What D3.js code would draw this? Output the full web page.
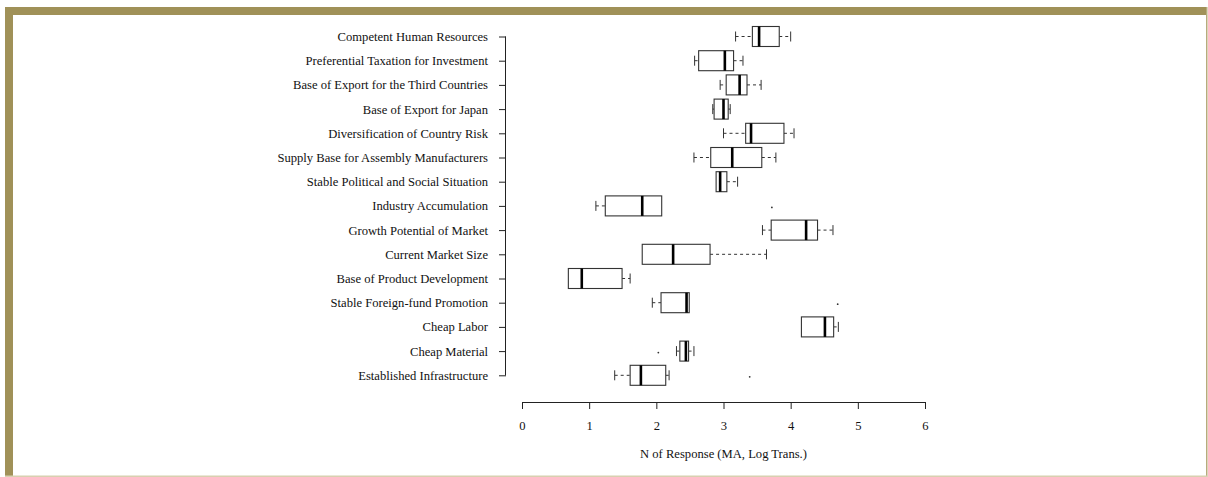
<!DOCTYPE html>
<html>
<head>
<meta charset="utf-8">
<script src="https://cdn.jsdelivr.net/npm/d3@7"></script>
<style>
  html, body { margin: 0; padding: 0; background: #fff; }
  svg { display: block; }
  text { font-family: "Liberation Serif", "Times New Roman", serif; fill: #111; }
</style>
</head>
<body>
<svg id="chart" width="1208" height="477"></svg>
<script>
// Motives for investment, five-number summaries (log-transformed counts)
const categories = [
  "Competent Human Resources",
  "Preferential Taxation for Investment",
  "Base of Export for the Third Countries",
  "Base of Export for Japan",
  "Diversification of Country Risk",
  "Supply Base for Assembly Manufacturers",
  "Stable Political and Social Situation",
  "Industry Accumulation",
  "Growth Potential of Market",
  "Current Market Size",
  "Base of Product Development",
  "Stable Foreign-fund Promotion",
  "Cheap Labor",
  "Cheap Material",
  "Established Infrastructure"
];
const whiskerLow  = [3.18, 2.57, 2.95, 2.84, 3.00, 2.56, 2.89, 1.10, 3.58, 1.79, 0.69, 1.94, 4.16, 2.30, 1.38];
const q1          = [3.43, 2.63, 3.04, 2.86, 3.33, 2.81, 2.89, 1.24, 3.71, 1.79, 0.69, 2.07, 4.16, 2.35, 1.61];
const median      = [3.53, 3.02, 3.24, 3.00, 3.41, 3.13, 2.95, 1.79, 4.23, 2.25, 0.89, 2.45, 4.51, 2.44, 1.77];
const q3          = [3.83, 3.15, 3.35, 3.07, 3.90, 3.57, 3.05, 2.08, 4.40, 2.80, 1.49, 2.49, 4.64, 2.48, 2.14];
const whiskerHigh = [4.00, 3.29, 3.56, 3.10, 4.05, 3.78, 3.21, 2.08, 4.63, 3.64, 1.61, 2.49, 4.71, 2.56, 2.19];
const outliers = [
  { cat: "Industry Accumulation", value: 3.72 },
  { cat: "Stable Foreign-fund Promotion", value: 4.70 },
  { cat: "Cheap Material", value: 2.03 },
  { cat: "Established Infrastructure", value: 3.39 }
];
const xTicks = [0, 1, 2, 3, 4, 5, 6];
const xTitle = "N of Response (MA, Log Trans.)";

const svg = d3.select("#chart");
const W = 1208, H = 477;
const fontSize = 12.6;

// frame: thick olive band on top and left, thin rule on right and bottom
const frame = "#a09158";
svg.append("rect").attr("x", 5).attr("y", 7).attr("width", W - 6).attr("height", 8).attr("fill", frame);
svg.append("rect").attr("x", 5).attr("y", 7).attr("width", 8).attr("height", H - 7).attr("fill", frame);
svg.append("rect").attr("x", W - 2).attr("y", 7).attr("width", 1.5).attr("height", H - 7).attr("fill", "#b7ab7c");
svg.append("rect").attr("x", 5).attr("y", H - 1.5).attr("width", W - 6).attr("height", 1.5).attr("fill", "#d8d0b0");

const x = d3.scaleLinear().domain([0, 6]).range([522, 925]);
const y = d3.scalePoint().domain(categories).range([36.5, 375.3]);
const boxH = 20;

const rows = categories.map((c, i) => ({
  cat: c, lo: whiskerLow[i], q1: q1[i], med: median[i], q3: q3[i], hi: whiskerHigh[i]
}));

// y axis (category labels)
const yAxis = svg.append("g").attr("transform", "translate(506,0)")
  .call(d3.axisLeft(y).tickSize(7).tickPadding(11));
yAxis.select(".domain").attr("stroke", "#222").attr("d", `M-0.5,${y(categories[0])}V${y(categories[categories.length - 1])}`);
yAxis.selectAll(".tick line").attr("stroke", "#222");
yAxis.selectAll(".tick text").attr("font-size", fontSize).style("font-family", '"Liberation Serif", serif').attr("fill", "#111");

// x axis
const xAxis = svg.append("g").attr("transform", "translate(0,402)")
  .call(d3.axisBottom(x).tickValues(xTicks).tickFormat(d3.format("d")).tickSize(7).tickSizeOuter(0).tickPadding(12));
xAxis.select(".domain").attr("stroke", "#222").attr("d", `M${x(0)},0.5H${x(6)}`);
xAxis.selectAll(".tick line").attr("stroke", "#222").attr("y1", 0);
xAxis.selectAll(".tick text").attr("font-size", fontSize).style("font-family", '"Liberation Serif", serif').attr("fill", "#111");

svg.append("text").attr("x", x(3)).attr("y", 458).attr("text-anchor", "middle")
  .attr("font-size", fontSize).text(xTitle);

// boxes
const g = svg.append("g");
const row = g.selectAll("g.row").data(rows).join("g").attr("class", "row")
  .attr("transform", d => `translate(0,${y(d.cat)})`);

const stroke = "#333";
// whiskers (dashed)
row.filter(d => d.lo < d.q1).append("line")
  .attr("x1", d => x(d.lo)).attr("x2", d => x(d.q1)).attr("y1", 0).attr("y2", 0)
  .attr("stroke", stroke).attr("stroke-dasharray", "3,3");
row.filter(d => d.hi > d.q3).append("line")
  .attr("x1", d => x(d.q3)).attr("x2", d => x(d.hi)).attr("y1", 0).attr("y2", 0)
  .attr("stroke", stroke).attr("stroke-dasharray", "3,3");
// whisker caps
row.filter(d => d.lo < d.q1).append("line")
  .attr("x1", d => x(d.lo)).attr("x2", d => x(d.lo)).attr("y1", -boxH / 4).attr("y2", boxH / 4)
  .attr("stroke", stroke);
row.filter(d => d.hi > d.q3).append("line")
  .attr("x1", d => x(d.hi)).attr("x2", d => x(d.hi)).attr("y1", -boxH / 4).attr("y2", boxH / 4)
  .attr("stroke", stroke);
// box
row.append("rect")
  .attr("x", d => x(d.q1)).attr("width", d => x(d.q3) - x(d.q1))
  .attr("y", -boxH / 2).attr("height", boxH)
  .attr("fill", "#fff").attr("stroke", stroke).attr("stroke-width", 1.1);
// median
row.append("line")
  .attr("x1", d => x(d.med)).attr("x2", d => x(d.med)).attr("y1", -boxH / 2).attr("y2", boxH / 2)
  .attr("stroke", "#000").attr("stroke-width", 2.6);

// outliers
g.selectAll("circle.out").data(outliers).join("circle").attr("class", "out")
  .attr("cx", d => x(d.value)).attr("cy", d => y(d.cat) + 1.5).attr("r", 0.9).attr("fill", "#333");
</script>
</body>
</html>
